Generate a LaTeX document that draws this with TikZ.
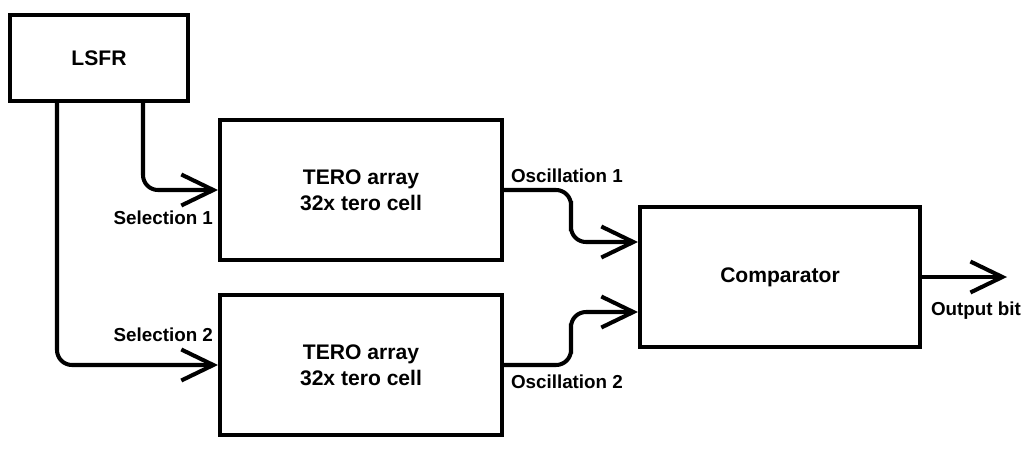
\documentclass[tikz,border=0pt]{standalone}
\usepackage{fontspec}
\setmainfont{Liberation Sans}
\usetikzlibrary{arrows.meta, positioning, calc}
\tikzset{
  every picture/.style={font=\bfseries, line width=2.3pt},
  block/.style={draw, rectangle, align=center, font=\bfseries\fontsize{12}{15}\selectfont, minimum width=#1},
  block/.default=5.64cm,
  wire/.style={-{Straight Barb[length=6.4mm, width=6.2mm, line width=2.3pt]}, rounded corners=0.3cm},
  lbl/.style={font=\bfseries\fontsize{10.7}{12}\selectfont, inner sep=0pt},
}
\begin{document}
\begin{tikzpicture}
  \useasboundingbox (0,0) rectangle (20.44,-9.06);
  \node[block=3.56cm, minimum height=1.72cm] (lsfr) at (1.98,-1.16) {LSFR};
  \node[block, minimum height=2.8cm] (tero1) at (7.22,-3.80) {TERO array\\32x tero cell};
  \node[block, minimum height=2.8cm] (tero2) at (7.22,-7.30) {TERO array\\32x tero cell};
  \node[block=5.6cm, minimum height=2.8cm] (cmp) at (15.60,-5.54) {Comparator};
  \coordinate (in1) at ([yshift=0.7cm]cmp.west);
  \coordinate (in2) at ([yshift=-0.7cm]cmp.west);
  \coordinate[right=1.7cm of cmp.east] (out);
  % selection lines from the LSFR
  \draw[wire] ([xshift=0.88cm]lsfr.south) |- (tero1.west);
  \draw[wire] ([xshift=-0.84cm]lsfr.south) |- (tero2.west);
  % oscillations into the comparator
  \draw[wire] (tero1.east) -| ($(tero1.east)!0.5!(in1)$) |- (in1);
  \draw[wire] (tero2.east) -| ($(tero2.east)!0.5!(in2)$) |- (in2);
  \draw[wire] (cmp.east) -- (out);
  \node[lbl, anchor=east] (s1) at ([xshift=-0.06cm, yshift=-0.56cm]tero1.west) {Selection 1};
  \node[lbl, anchor=east] (s2) at ([xshift=-0.06cm, yshift=0.60cm]tero2.west) {Selection 2};
  \node[lbl, anchor=west] (o1) at ([xshift=0.10cm, yshift=0.28cm]tero1.east) {Oscillation 1};
  \node[lbl, anchor=west] (o2) at ([xshift=0.10cm, yshift=-0.34cm]tero2.east) {Oscillation 2};
  \node[lbl, anchor=west] (ob) at ([xshift=0.14cm, yshift=-0.68cm]cmp.east) {Output bit};
\end{tikzpicture}
\end{document}
